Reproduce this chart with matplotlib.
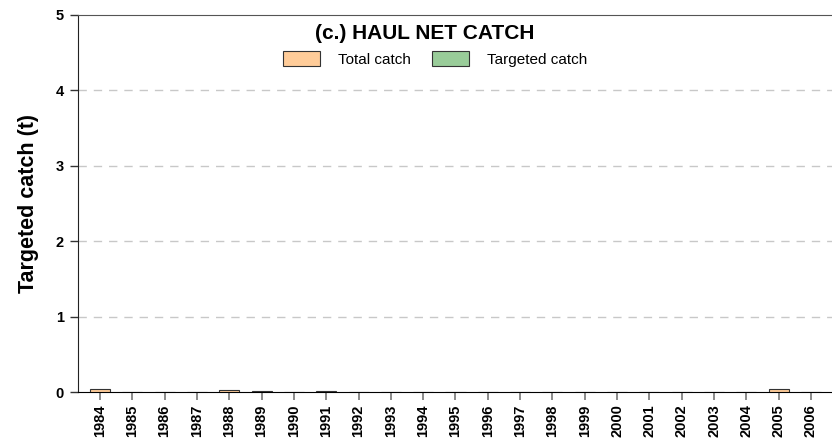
"""Haul net catch bar chart, panel (c)."""

import matplotlib as mpl
import matplotlib.pyplot as plt
from matplotlib.patches import Patch

mpl.rcParams["font.family"] = ["Liberation Sans", "DejaVu Sans"]

YEARS = [str(y) for y in range(1984, 2007)]
TOTAL_CATCH = [0.04, 0, 0, 0, 0.02, 0.01, 0.005, 0.01, 0, 0, 0, 0, 0, 0, 0, 0,
               0, 0, 0, 0, 0, 0.035, 0]
TARGETED_CATCH = [0.0] * len(YEARS)

TOTAL_COLOR = "#FFCC99"
TARGET_COLOR = "#99CC99"
EDGE = "#333333"


def main() -> None:
    fig = plt.figure(figsize=(8.32, 4.46), dpi=100)
    ax = fig.add_axes([78 / 832, 1 - 392 / 446, 754 / 832, 377 / 446])

    x = list(range(len(YEARS)))
    ax.bar(x, TOTAL_CATCH, width=0.62, color=TOTAL_COLOR, edgecolor=EDGE,
           linewidth=0.8, zorder=3)
    # targeted catch is zero throughout; drawn without outline so it stays invisible
    ax.bar(x, TARGETED_CATCH, width=0.62, color=TARGET_COLOR, edgecolor=EDGE,
           linewidth=0, zorder=4)

    ax.set_xlim(-0.68, 22.65)
    ax.set_ylim(0, 5)
    ax.set_xticks(x)
    ax.set_xticklabels(YEARS, rotation=90, fontsize=10.5, fontweight="bold")
    ax.set_yticks(range(6))
    ax.set_yticklabels([str(v) for v in range(6)], fontsize=10.5, fontweight="bold")
    ax.tick_params(axis="x", direction="out", length=6, width=1.2, color="#777777", pad=3)
    ax.tick_params(axis="y", direction="out", length=6, width=1, color="#333333", pad=4)

    for v in range(1, 5):
        ax.axhline(v, color="#c8c8c8", linestyle=(0, (6, 5)), linewidth=1, zorder=1)

    ax.spines["right"].set_visible(False)
    ax.spines["top"].set_color("#555555")
    ax.spines["left"].set_color("#222222")
    ax.spines["bottom"].set_color("#000000")

    ax.set_ylabel("Targeted catch (t)", fontsize=15.5, fontweight="bold", labelpad=12)

    ax.text(0.46, 0.952, "(c.) HAUL NET CATCH", transform=ax.transAxes,
            ha="center", va="center", fontsize=15, fontweight="bold")

    handles = [
        Patch(facecolor=TOTAL_COLOR, edgecolor=EDGE, linewidth=0.8, label="Total catch"),
        Patch(facecolor=TARGET_COLOR, edgecolor=EDGE, linewidth=0.8, label="Targeted catch"),
    ]
    ax.legend(handles=handles, loc="center", bbox_to_anchor=(0.474, 0.884),
              ncol=2, frameon=False, fontsize=11, handlelength=2.4,
              handleheight=1.2, handletextpad=1.2, columnspacing=1.4,
              borderpad=0, borderaxespad=0)

    fig.savefig("out.png", dpi=100, facecolor="white")
    plt.close(fig)


if __name__ == "__main__":
    main()
